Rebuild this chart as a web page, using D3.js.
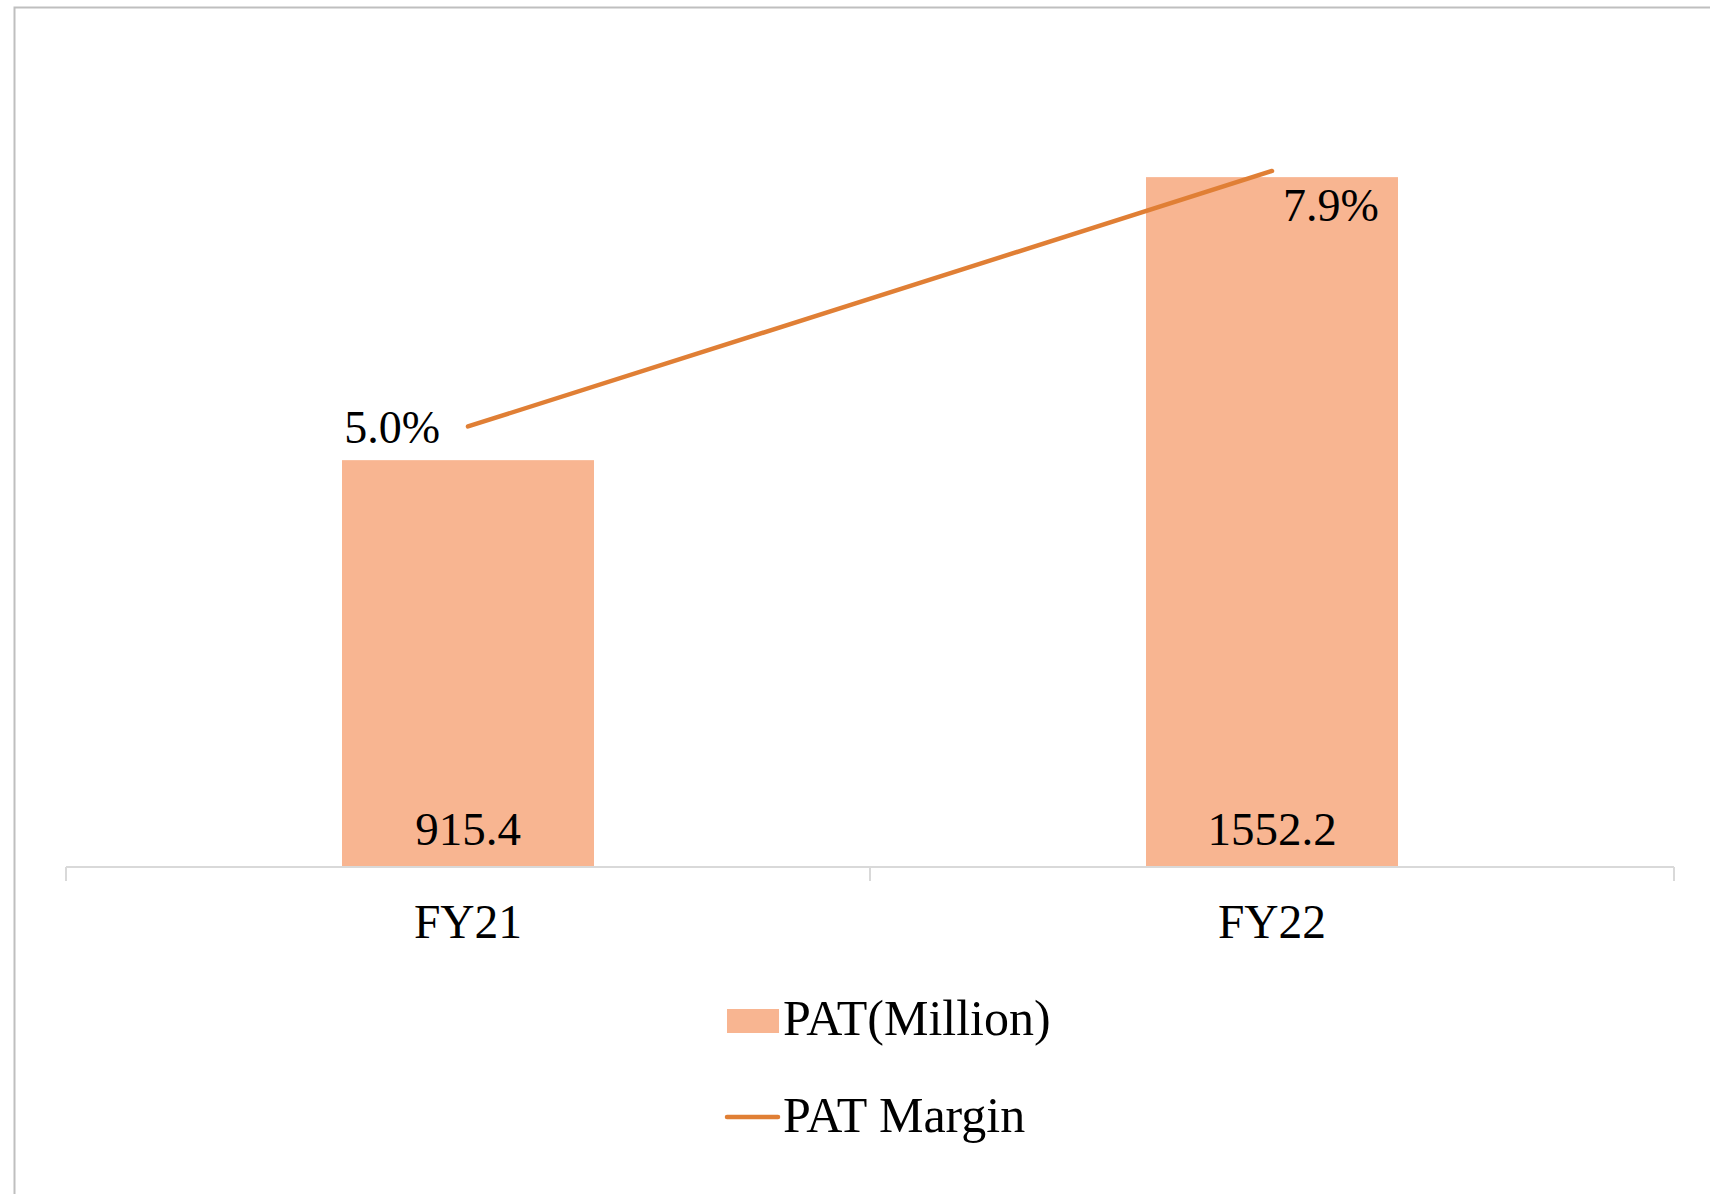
<!DOCTYPE html>
<html>
<head>
<meta charset="utf-8">
<script src="https://cdn.jsdelivr.net/npm/d3@7"></script>
<style>
  body { margin: 0; background: #fff; }
  text { font-family: "Liberation Serif", "Times New Roman", serif; fill: #000; }
</style>
</head>
<body>
<script>
var categories = ["FY21", "FY22"];
var patValues = [915.4, 1552.2];
var marginValues = [5.0, 7.9];
var marginLabels = ["5.0%", "7.9%"];
var seriesNames = ["PAT(Million)", "PAT Margin"];

var width = 1710, height = 1194;
var plot = { left: 66, right: 1674, top: 67, bottom: 867 };

var barColor = "#f8b591",
    lineColor = "#e07f35";

var svg = d3.select("body").append("svg")
    .attr("width", width)
    .attr("height", height);

// chart border (runs off right and bottom edge)
svg.append("path")
    .attr("d", "M14.5," + (height + 2) + "V7.5H" + (width + 2))
    .attr("fill", "none")
    .attr("stroke", "#bfbfbf")
    .attr("stroke-width", 2);

var x = d3.scaleBand()
    .domain(categories)
    .range([plot.left, plot.right])
    .padding(0);

var y = d3.scaleLinear()
    .domain([0, 1800])
    .range([plot.bottom, plot.top]);

var y2 = d3.scaleLinear()
    .domain([0, 9.08])
    .range([plot.bottom, plot.top]);

var barW = x.bandwidth() * 0.3134;

// bars
svg.selectAll(".bar")
    .data(patValues)
    .enter().append("rect")
    .attr("class", "bar")
    .attr("x", function(d, i) { return x(categories[i]) + x.bandwidth() / 2 - barW / 2; })
    .attr("y", function(d) { return y(d); })
    .attr("width", barW)
    .attr("height", function(d) { return y(0) - y(d); })
    .attr("fill", barColor);

// x axis
var xAxis = d3.axisBottom(x).tickSize(0).tickPadding(0);
var gx = svg.append("g")
    .attr("transform", "translate(0," + plot.bottom + ")")
    .call(xAxis);
gx.select(".domain").remove();
gx.selectAll(".tick text")
    .attr("y", 71)
    .attr("dy", 0)
    .style("font-family", "Liberation Serif, serif")
    .style("font-size", "47.5px")
    .attr("fill", "#000");

var edges = categories.map(function(c) { return x(c); }).concat([plot.right]);
svg.append("line")
    .attr("x1", plot.left).attr("x2", plot.right)
    .attr("y1", plot.bottom).attr("y2", plot.bottom)
    .attr("stroke", "#d9d9d9").attr("stroke-width", 2);
svg.selectAll(".edge")
    .data(edges)
    .enter().append("line")
    .attr("class", "edge")
    .attr("x1", function(d) { return d; }).attr("x2", function(d) { return d; })
    .attr("y1", plot.bottom).attr("y2", plot.bottom + 14)
    .attr("stroke", "#d9d9d9").attr("stroke-width", 2);

// bar value labels
svg.selectAll(".barlabel")
    .data(patValues)
    .enter().append("text")
    .attr("class", "barlabel")
    .attr("x", function(d, i) { return x(categories[i]) + x.bandwidth() / 2; })
    .attr("y", plot.bottom - 22)
    .attr("text-anchor", "middle")
    .style("font-size", "47px")
    .text(function(d) { return d.toFixed(1); });

// margin line
var line = d3.line()
    .x(function(d, i) { return x(categories[i]) + x.bandwidth() / 2; })
    .y(function(d) { return y2(d); });

svg.append("path")
    .datum(marginValues)
    .attr("d", line)
    .attr("fill", "none")
    .attr("stroke", lineColor)
    .attr("stroke-width", 4.5)
    .attr("stroke-linecap", "round");

// margin labels
var labelOffsets = [{ dx: -28, dy: 17, anchor: "end" }, { dx: 11, dy: 50, anchor: "start" }];
svg.selectAll(".linelabel")
    .data(marginValues)
    .enter().append("text")
    .attr("class", "linelabel")
    .attr("x", function(d, i) { return x(categories[i]) + x.bandwidth() / 2 + labelOffsets[i].dx; })
    .attr("y", function(d, i) { return y2(d) + labelOffsets[i].dy; })
    .attr("text-anchor", function(d, i) { return labelOffsets[i].anchor; })
    .style("font-size", "46px")
    .text(function(d, i) { return marginLabels[i]; });

// legend
var legend = svg.append("g");
legend.append("rect")
    .attr("x", 727).attr("y", 1009)
    .attr("width", 52).attr("height", 24)
    .attr("fill", barColor);
legend.append("text")
    .attr("x", 783).attr("y", 1035)
    .style("font-size", "50px")
    .text(seriesNames[0]);
legend.append("line")
    .attr("x1", 727).attr("x2", 778)
    .attr("y1", 1117).attr("y2", 1117)
    .attr("stroke", lineColor)
    .attr("stroke-width", 4.5)
    .attr("stroke-linecap", "round");
legend.append("text")
    .attr("x", 783).attr("y", 1132)
    .style("font-size", "50px")
    .text(seriesNames[1]);
</script>
</body>
</html>
